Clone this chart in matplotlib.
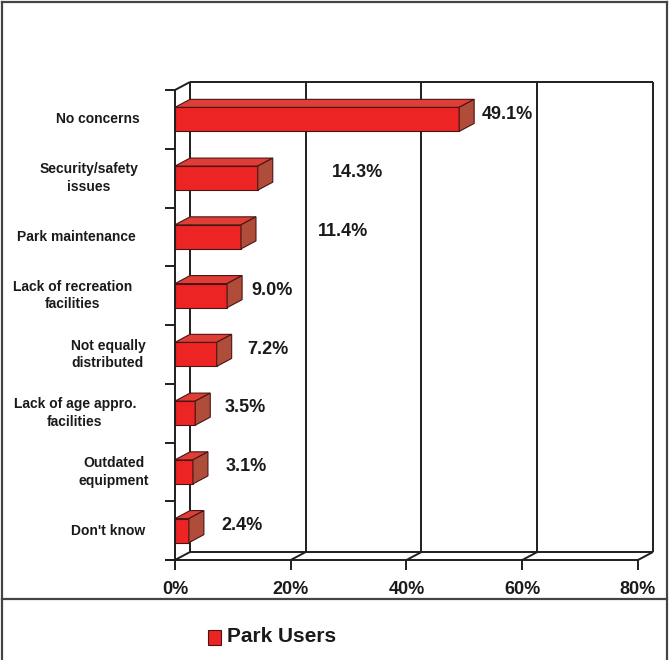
import matplotlib.pyplot as plt
from matplotlib.patches import Rectangle, Polygon

# Survey results: main concerns about parks (park users)
categories = ['No concerns', 'Security/safety\nissues', 'Park maintenance',
              'Lack of recreation\nfacilities', 'Not equally\ndistributed',
              'Lack of age appro.\nfacilities', 'Outdated\nequipment', "Don't know"]
values = [49.1, 14.3, 11.4, 9.0, 7.2, 3.5, 3.1, 2.4]
x_ticks = [0, 20, 40, 60, 80]
tick_labels = ['0%', '20%', '40%', '60%', '80%']
series_name = 'Park Users'

# where the value labels sit along the axis (in %) and category label centres (in px)
value_label_x = [57.4, 31.6, 29.0, 16.8, 16.1, 12.1, 12.3, 11.6]
cat_label_px = [98, 89, 76, 73, 108, 75, 114, 108]

W, H = 670, 660
X0, SX = 175, 5.7875      # px of 0% and px per percent
Y0, SY = 560, 58.75       # px of the floor and px per category
DX, DY = 15 / SX, 8 / SY  # depth of the 3d box

fig = plt.figure(figsize=(W / 100, H / 100), dpi=100)
ax = fig.add_axes([0, 0, 1, 1])
ax.set_xlim(-X0 / SX, (W - X0) / SX)
ax.set_ylim((Y0 - H) / SY, Y0 / SY)
ax.axis('off')

line_kw = dict(color='#1e1e1e', lw=1.4, solid_capstyle='butt')
n = len(categories)

# back wall gridlines and floor
for v in x_ticks:
    ax.plot([v + DX, v + DX], [DY, n + DY], zorder=1, **line_kw)
    ax.plot([v, v + DX], [0, DY], zorder=1, **line_kw)
    ax.plot([v, v], [0, -10 / SY], zorder=1, **line_kw)
ax.plot([DX, x_ticks[-1] + DX], [n + DY, n + DY], zorder=1, **line_kw)
ax.plot([DX, x_ticks[-1] + DX], [DY, DY], zorder=1, **line_kw)
ax.plot([-10 / SX, x_ticks[-1]], [0, 0], zorder=1, **line_kw)
ax.plot([0, DX], [n, n + DY], zorder=1, **line_kw)
for k in range(n + 1):
    ax.plot([-10 / SX, 0], [k, k], zorder=1, **line_kw)

# 3d bars
front_c, top_c, side_c, edge_c = '#ec2424', '#de3e36', '#b04c3a', '#4a1414'
h = 0.41
for i, val in enumerate(values):
    yc = n - 0.5 - i
    y1, y2 = yc - h / 2, yc + h / 2
    ax.add_patch(Rectangle((0, y1), val, h, facecolor=front_c,
                           edgecolor=edge_c, lw=0.8, zorder=3))
    ax.add_patch(Polygon([(0, y2), (val, y2), (val + DX, y2 + DY), (DX, y2 + DY)],
                         facecolor=top_c, edgecolor=edge_c, lw=0.8, zorder=3))
    ax.add_patch(Polygon([(val, y1), (val + DX, y1 + DY), (val + DX, y2 + DY), (val, y2)],
                         facecolor=side_c, edgecolor=edge_c, lw=0.8, zorder=3))
    ax.text(value_label_x[i], yc + 0.09, f'{val:.1f}%', ha='center', va='center',
            fontsize=13, fontweight='bold', family='Liberation Sans', color='#1a1a1a')
    ax.text((cat_label_px[i] - X0) / SX, yc, categories[i], ha='center', va='center',
            multialignment='center', linespacing=1.3, fontsize=10,
            fontweight='bold', family='Liberation Sans', color='#1a1a1a')

# left axis line drawn over the bars
ax.plot([0, 0], [0, n], zorder=4, **line_kw)

for v, lab in zip(x_ticks, tick_labels):
    ax.text(v, (Y0 - 589) / SY, lab, ha='center', va='center', fontsize=13,
            fontweight='bold', family='Liberation Sans', color='#1a1a1a')

# outer frame and legend box
frame_kw = dict(color='#444444', lw=1.6, transform=fig.transFigure)
fig.add_artist(plt.Line2D([2 / W, 2 / W], [0, 1 - 2 / H], **frame_kw))
fig.add_artist(plt.Line2D([667 / W, 667 / W], [0, 1 - 2 / H], **frame_kw))
fig.add_artist(plt.Line2D([2 / W, 667 / W], [1 - 2 / H, 1 - 2 / H], **frame_kw))
fig.add_artist(plt.Line2D([2 / W, 667 / W], [1 - 599 / H, 1 - 599 / H], **frame_kw))

fig.add_artist(Rectangle((208 / W, 1 - 645 / H), 13 / W, 15 / H, facecolor=front_c,
                         edgecolor=edge_c, lw=0.8, transform=fig.transFigure))
fig.text(227 / W, 1 - 637 / H, series_name, ha='left', va='center', fontsize=15,
         fontweight='bold', family=['Liberation Sans Narrow', 'Liberation Sans'],
         color='#1a1a1a')

fig.savefig('out.png', dpi=100)
